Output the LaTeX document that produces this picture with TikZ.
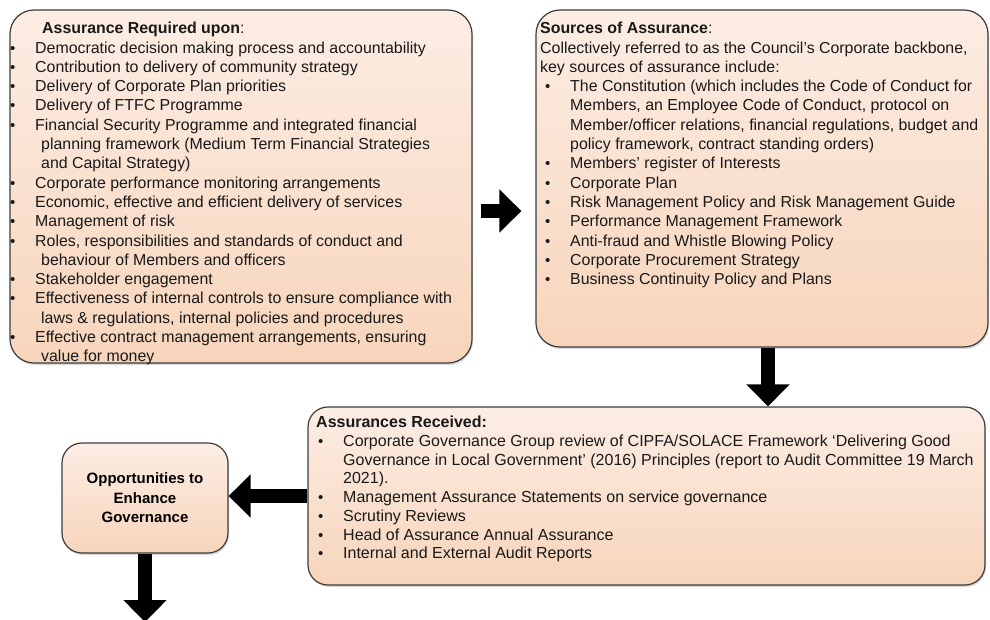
\documentclass[tikz,border=0pt]{standalone}
\usepackage{fontspec}
\setmainfont{Liberation Sans}
\usepackage{tikz}
\usetikzlibrary{positioning,calc,arrows.meta,shadows}

\definecolor{peachtop}{RGB}{252,237,228}
\definecolor{peachbot}{RGB}{247,213,187}
\definecolor{boxline}{RGB}{60,60,60}

\newcommand{\mybul}[1]{\makebox[#1][l]{\fontsize{15}{15}\selectfont\textbullet}}
\newcommand{\mycont}[1]{\hspace*{#1}}

\tikzset{
  peachbox/.style={draw=boxline,line width=1.2pt,top color=peachtop,bottom color=peachbot,
    rounded corners=24pt,inner sep=0pt,
    drop shadow={shadow xshift=1pt,shadow yshift=-2pt,opacity=0.3}},
  boxtext/.style={anchor=north west,inner sep=0pt,align=left,text=black!90,
    font=\fontsize{15.9}{19.3}\selectfont},
  bigarrow/.style={line width=14pt,-{Triangle[width=42pt,length=22pt]}}
}

\begin{document}
\begin{tikzpicture}[x=1pt,y=-1pt]
  \useasboundingbox (0,0) rectangle (990,619);

  % boxes
  \node[peachbox,minimum width=462pt,minimum height=353pt] (req) at (241,186.5) {};
  \node[peachbox,minimum width=452pt,minimum height=337pt] (src) at (762,178.5) {};
  \node[peachbox,rounded corners=20pt,minimum width=677pt,minimum height=178pt] (asr) at (646.5,496) {};
  \node[peachbox,rounded corners=20pt,minimum width=166pt,minimum height=110pt,
    align=center,font=\bfseries\fontsize{15}{19.5}\selectfont] (opp) at (145,498)
    {Opportunities to\\Enhance\\Governance};

  % texts
  \node[boxtext] (reqtxt) at (10,22) {%
    \mycont{32pt}\textbf{Assurance Required upon}:\\
    \mybul{25pt}Democratic decision making process and accountability\\
    \mybul{25pt}Contribution to delivery of community strategy\\
    \mybul{25pt}Delivery of Corporate Plan priorities\\
    \mybul{25pt}Delivery of FTFC Programme\\
    \mybul{25pt}Financial Security Programme and integrated financial\\
    \mycont{31pt}planning framework (Medium Term Financial Strategies\\
    \mycont{31pt}and Capital Strategy)\\
    \mybul{25pt}Corporate performance monitoring arrangements\\
    \mybul{25pt}Economic, effective and efficient delivery of services\\
    \mybul{25pt}Management of risk\\
    \mybul{25pt}Roles, responsibilities and standards of conduct and\\
    \mycont{31pt}behaviour of Members and officers\\
    \mybul{25pt}Stakeholder engagement\\
    \mybul{25pt}Effectiveness of internal controls to ensure compliance with\\
    \mycont{31pt}laws \& regulations, internal policies and procedures\\
    \mybul{25pt}Effective contract management arrangements, ensuring\\
    \mycont{31pt}value for money};

  \node[boxtext] (srctxt) at (540,22) {%
    \textbf{Sources of Assurance}:\\
    Collectively referred to as the Council’s Corporate backbone,\\
    key sources of assurance include:\\
    \mycont{5pt}\mybul{25pt}The Constitution (which includes the Code of Conduct for\\
    \mycont{30pt}Members, an Employee Code of Conduct, protocol on\\
    \mycont{30pt}Member/officer relations, financial regulations, budget and\\
    \mycont{30pt}policy framework, contract standing orders)\\
    \mycont{5pt}\mybul{25pt}Members’ register of Interests\\
    \mycont{5pt}\mybul{25pt}Corporate Plan\\
    \mycont{5pt}\mybul{25pt}Risk Management Policy and Risk Management Guide\\
    \mycont{5pt}\mybul{25pt}Performance Management Framework\\
    \mycont{5pt}\mybul{25pt}Anti-fraud and Whistle Blowing Policy\\
    \mycont{5pt}\mybul{25pt}Corporate Procurement Strategy\\
    \mycont{5pt}\mybul{25pt}Business Continuity Policy and Plans};

  \node[boxtext,font=\fontsize{16}{18.7}\selectfont] (asrtxt) at (316,416) {%
    \textbf{Assurances Received:}\\
    \mycont{2pt}\mybul{25pt}Corporate Governance Group review of CIPFA/SOLACE Framework ‘Delivering Good\\
    \mycont{27pt}Governance in Local Government’ (2016) Principles (report to Audit Committee 19 March\\
    \mycont{27pt}2021).\\
    \mycont{2pt}\mybul{25pt}Management Assurance Statements on service governance\\
    \mycont{2pt}\mybul{25pt}Scrutiny Reviews\\
    \mycont{2pt}\mybul{25pt}Head of Assurance Annual Assurance\\
    \mycont{2pt}\mybul{25pt}Internal and External Audit Reports};

  % arrows
  \coordinate (out) at (145,622);
  \draw[bigarrow,shorten <=8pt,shorten >=14pt] ([yshift=-24.5pt]req.east) -- ([yshift=-24.5pt]req.east -| src.west);
  \draw[bigarrow] ([xshift=6pt]src.south) -- ([xshift=6pt]src.south |- asr.north);
  \draw[bigarrow] (asr.west) -- (asr.west -| opp.east);
  \draw[bigarrow] (opp.south) -- (out);
\end{tikzpicture}
\end{document}
